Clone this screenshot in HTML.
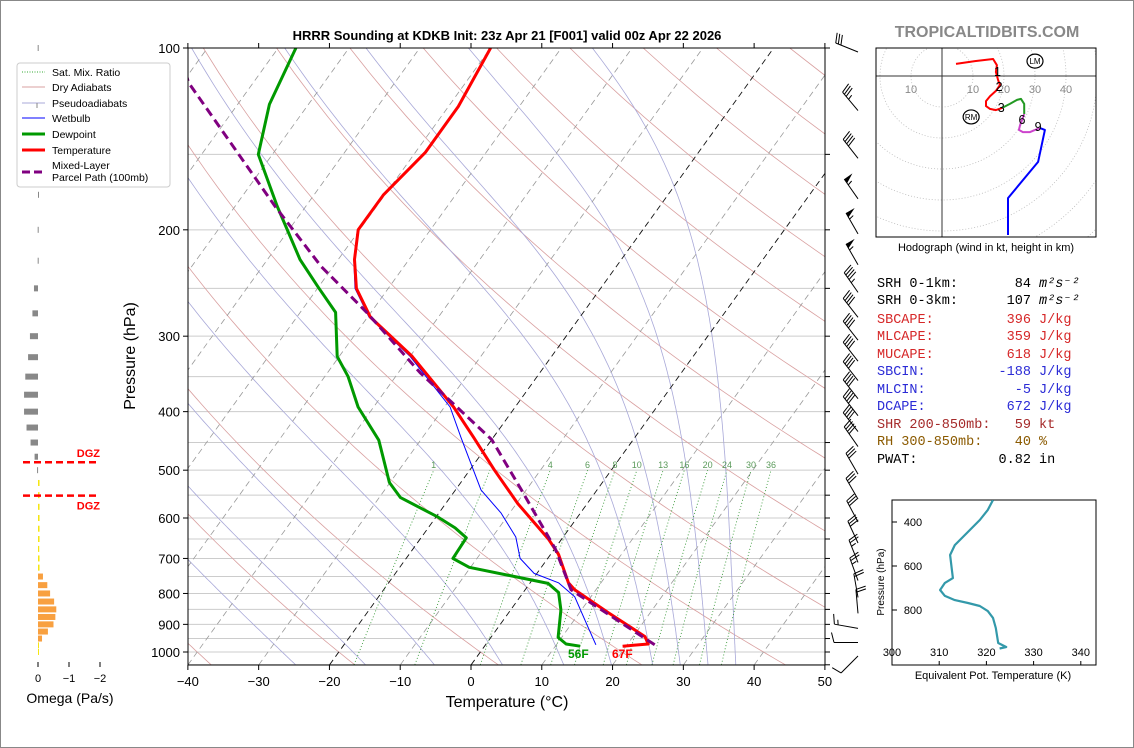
<!DOCTYPE html>
<html><head><meta charset="utf-8"><title>HRRR Sounding KDKB</title>
<style>
html,body{margin:0;padding:0;background:#fff;}
body{width:1134px;height:748px;overflow:hidden;font-family:"Liberation Sans","DejaVu Sans",sans-serif;}
svg{display:block}
.mono{font-family:"Liberation Mono","DejaVu Sans Mono",monospace;font-size:13.5px;white-space:pre;}
</style></head>
<body>
<svg id="chart" width="1134" height="748" viewBox="0 0 1134 748" xmlns="http://www.w3.org/2000/svg">
<rect x="0.5" y="0.5" width="1133" height="747" fill="#fff" stroke="#888"/>
<defs>
<clipPath id="mainClip"><rect x="188" y="48" width="637" height="617"/></clipPath>
<clipPath id="hodoClip"><rect x="876" y="48" width="220" height="189"/></clipPath>
<clipPath id="teClip"><rect x="892" y="500" width="204" height="165"/></clipPath>
</defs>
<g id="bg" clip-path="url(#mainClip)"></g>
<g id="traces" clip-path="url(#mainClip)"></g>
<g id="axes"></g>
<g id="barbs"></g>
<g id="omega"></g>
<g id="hodo"></g>
<g id="te"></g>

<text x="507" y="40" text-anchor="middle" font-size="13" font-weight="bold">HRRR Sounding at KDKB Init: 23z Apr 21 [F001] valid 00z Apr 22 2026</text>
<text x="987" y="37" text-anchor="middle" font-size="16" font-weight="bold" fill="#888">TROPICALTIDBITS.COM</text>
<text transform="translate(135,356) rotate(-90)" text-anchor="middle" font-size="16">Pressure (hPa)</text>
<text x="507" y="707" text-anchor="middle" font-size="16">Temperature (°C)</text>
<text x="70" y="703" text-anchor="middle" font-size="14">Omega (Pa/s)</text>
<text x="986" y="251" text-anchor="middle" font-size="11">Hodograph (wind in kt, height in km)</text>
<text x="993" y="679" text-anchor="middle" font-size="11">Equivalent Pot. Temperature (K)</text>
<text transform="translate(884,582) rotate(-90)" text-anchor="middle" font-size="10">Pressure (hPa)</text>
<text x="568" y="658" font-size="12" font-weight="bold" fill="#009900">56F</text>
<text x="612" y="658" font-size="12" font-weight="bold" fill="#ff0000">67F</text>

<g>
<rect x="17" y="63" width="153" height="124" rx="3" fill="#fff" stroke="#ccc"/>
<line x1="22" y1="72" x2="45" y2="72" stroke="#3a3" stroke-dasharray="1,1.5"/>
<text x="52" y="76" font-size="10.5">Sat. Mix. Ratio</text>
<line x1="22" y1="87" x2="45" y2="87" stroke="#d9a0a0"/>
<text x="52" y="91" font-size="10.5">Dry Adiabats</text>
<line x1="22" y1="103" x2="45" y2="103" stroke="#a8a8d8"/>
<line x1="37" y1="103" x2="37" y2="108" stroke="#888"/>
<text x="52" y="107" font-size="10.5">Pseudoadiabats</text>
<line x1="22" y1="118" x2="45" y2="118" stroke="#0000ff"/>
<text x="52" y="122" font-size="10.5">Wetbulb</text>
<line x1="22" y1="134" x2="45" y2="134" stroke="#009900" stroke-width="3"/>
<text x="52" y="138" font-size="10.5">Dewpoint</text>
<line x1="22" y1="150" x2="45" y2="150" stroke="#ff0000" stroke-width="3"/>
<text x="52" y="154" font-size="10.5">Temperature</text>
<line x1="22" y1="172" x2="45" y2="172" stroke="#800080" stroke-width="3" stroke-dasharray="8,4"/>
<text x="52" y="169" font-size="10.5">Mixed-Layer</text>
<text x="52" y="181" font-size="10.5">Parcel Path (100mb)</text>
</g>

<g class="mono">
<text x="877" y="287" class="mono">SRH 0-1km:       84 <tspan font-style="italic">m²s⁻²</tspan></text>
<text x="877" y="304" class="mono">SRH 0-3km:      107 <tspan font-style="italic">m²s⁻²</tspan></text>
<text x="877" y="323" class="mono" fill="#d62728">SBCAPE:         396 J/kg</text>
<text x="877" y="340" class="mono" fill="#d62728">MLCAPE:         359 J/kg</text>
<text x="877" y="358" class="mono" fill="#d62728">MUCAPE:         618 J/kg</text>
<text x="877" y="375" class="mono" fill="#2b2bd6">SBCIN:         -188 J/kg</text>
<text x="877" y="393" class="mono" fill="#2b2bd6">MLCIN:           -5 J/kg</text>
<text x="877" y="410" class="mono" fill="#2b2bd6">DCAPE:          672 J/kg</text>
<text x="877" y="428" class="mono" fill="#a52a2a">SHR 200-850mb:   59 kt</text>
<text x="877" y="445" class="mono" fill="#8b5a00">RH 300-850mb:    40 %</text>
<text x="877" y="463" class="mono">PWAT:          0.82 in</text>
</g>
</svg>

<script>
// ---- Data ----
const tempP = [978, 970, 943, 861, 789, 768, 689, 651, 568, 500, 442, 393, 324, 279, 250, 224, 200, 175, 149, 125, 100];
const tempT = [19.5, 22.9, 21.7, 14.1, 7.0, 5.4, 1.1, -1.8, -9.8, -16.5, -22.7, -28.7, -39.7, -49.6, -54.5, -57.7, -60.2, -60.2, -58.6, -58.6, -60.0];
const dewP = [978, 970, 946, 852, 797, 770, 724, 700, 647, 623, 598, 555, 524, 446, 393, 350, 324, 274, 249, 224, 202, 183, 150, 124, 100];
const dewT = [13.5, 11.3, 9.5, 7.1, 5.0, 2.6, -10.2, -13.4, -13.6, -16.2, -19.7, -27.0, -30.1, -35.9, -42.2, -46.7, -50.3, -55.0, -60.0, -65.4, -69.8, -74.0, -82.0, -85.5, -87.5];
const wetP = [973, 910, 810, 768, 741, 700, 645, 589, 539, 442, 393, 324, 279, 250, 224, 200, 175, 149, 125, 100];
const wetT = [15.6, 12.7, 7.7, 4.0, -0.4, -3.9, -6.7, -11.2, -16.4, -24.5, -29.2, -40.0, -49.8, -54.7, -57.8, -60.3, -60.3, -58.7, -58.7, -60.1];
const parcelP = [973, 789, 675, 539, 445, 345, 274, 230, 183, 114, 100];
const parcelT = [23.9, 6.5, 0.1, -10.7, -20.0, -36.9, -50.6, -61.7, -74.3, -99.2, -104];
const xTicks = [-40, -30, -20, -10, 0, 10, 20, 30, 40, 50];
const pTicks = [100, 200, 300, 400, 500, 600, 700, 800, 900, 1000];
const mixRatios = [1, 2, 4, 6, 8, 10, 13, 16, 20, 24, 30, 36];
const mixLabels = ["1", "", "4", "6", "8", "10", "13", "16", "20", "24", "30", "36"];
const moistStarts = [-28, -18, -8, 2, 11, 18, 24, 28, 32, 36];
const barbP = [100, 125, 150, 175, 200, 225, 250, 275, 300, 325, 350, 375, 400, 425, 450, 500, 550, 600, 650, 700, 750, 800, 850, 900, 950, 1000];
const barbSpd = [30, 35, 40, 55, 55, 55, 45, 40, 40, 40, 40, 40, 40, 40, 40, 30, 30, 30, 30, 25, 25, 20, 20, 15, 10, 10];
const barbDir = [292, 320, 322, 325, 330, 330, 325, 322, 322, 322, 322, 322, 322, 322, 325, 330, 330, 332, 335, 338, 340, 350, 355, 280, 270, 225];
const omegaP = [100,125,150,175,200,225,250,275,300,325,350,375,400,425,450,475,500,525,550,575,600,625,650,675,700,725,750,775,800,825,850,875,900,925,950,975,1000];
const omegaV = [0.01,0,0,0,0.01,0.01,0.13,0.18,0.26,0.32,0.41,0.45,0.45,0.37,0.24,0.11,0.03,-0.05,-0.05,-0.05,-0.05,-0.05,-0.05,-0.04,-0.05,-0.05,-0.16,-0.3,-0.39,-0.52,-0.59,-0.56,-0.5,-0.32,-0.13,-0.02,-0.01];
const dgzP = [485, 551];
const hodoRedU = [4.5, 10.6, 16.5, 17.7, 17.4, 18.1, 18.7, 17.4, 15.5, 14.2, 14.2, 15.5, 17.4, 19.4];
const hodoRedV = [3.9, 4.8, 5.5, 3.5, 1.3, -1.3, -2.9, -4.8, -6.5, -8.1, -9.7, -10.6, -11.0, -10.3];
const hodoGreenU = [19.4, 21.9, 24.2, 25.5, 26.5, 26.5];
const hodoGreenV = [-10.3, -9.0, -7.7, -7.4, -9.0, -12.3];
const hodoMagU = [26.5, 25.2, 24.8, 26.1, 28.4, 30.0, 31.6];
const hodoMagV = [-12.3, -15.8, -17.4, -18.1, -18.1, -17.4, -16.8];
const hodoBlueU = [31.6, 33.2, 31.0, 21.3, 21.3];
const hodoBlueV = [-16.8, -17.4, -27.7, -39.4, -51.3];
const hodoLabelsTxt = ["1", "2", "3", "6", "9"];
const hodoLabelsU = [17.9, 18.4, 19.1, 25.8, 31.0];
const hodoLabelsV = [1.3, -3.6, -10.3, -14.2, -16.4];
const rmUV = [9.4, -13.2];
const lmUV = [30.0, 4.8];
const teP = [300, 345, 391, 445, 505, 550, 618, 655, 677, 709, 736, 755, 768, 782, 805, 836, 882, 950, 968, 975];
const teK = [321.4, 320.3, 318.6, 316.1, 313.3, 312.3, 312.7, 312.9, 311.2, 310.2, 311.2, 313.3, 316.1, 318.6, 320.3, 321.4, 322.0, 322.5, 324.2, 322.8];
const teXTicks = [300, 310, 320, 330, 340];
const teYTicks = [400, 600, 800];

// ---- Axis functions ----
const NS = "http://www.w3.org/2000/svg";
function yP(p){ return 48 + 604*Math.log10(p/100); }
function xT(t,p){ return 471 + 7.078*t + 0.72*(665 - yP(p)); }
function mk(tag, attrs, parent){
  const e = document.createElementNS(NS, tag);
  for (const k in attrs) e.setAttribute(k, attrs[k]);
  parent.appendChild(e);
  return e;
}
function ptsStr(arr){ return arr.map(a => a[0].toFixed(1)+","+a[1].toFixed(1)).join(" "); }

const bg = document.getElementById("bg");
const tr = document.getElementById("traces");
const ax = document.getElementById("axes");

for (let p = 100; p <= 1050; p += 50) {
  const l = mk("line", {x1:188, x2:825, y1:yP(p), y2:yP(p), stroke:"#cccccc", "stroke-width":1}, bg);
  
  
}
for (let th = 233.15; th <= 573; th += 20) {
  const pts = [];
  for (let p = 1050; p >= 100; p -= 10) pts.push([xT(th*Math.pow(p/1000,0.2857)-273.15,p), yP(p)]);
  const l = mk("polyline", {points:ptsStr(pts), fill:"none", stroke:"#d9a0a0", "stroke-width":0.8}, bg);
  
  
}
function es(tc){ return 6.112*Math.exp(17.67*tc/(tc+243.5)); }
function dTdp(T,p){
  const tc = T-273.15, e = es(tc), rs = 0.622*e/(p-e);
  return (287*T + 2.5e6*rs)/(p*(1004 + 2.5e6*2.5e6*rs*0.622/(287*T*T)));
}
for (const t0 of moistStarts) {
  const up = []; let T = t0+273.15;
  for (let p = 1000; p >= 100; p -= 5) { up.push([xT(T-273.15,p), yP(p)]); T -= dTdp(T,p)*5; }
  const dn = []; T = t0+273.15;
  for (let p = 1000; p <= 1050; p += 5) { dn.push([xT(T-273.15,p), yP(p)]); T += dTdp(T,p)*5; }
  const pts = dn.reverse().concat(up);
  const l = mk("polyline", {points:ptsStr(pts), fill:"none", stroke:"#a8a8d8", "stroke-width":0.8}, bg);
  
  
}
for (let t = -130; t <= 50; t += 10) {
  const hl = (t === 0 || t === -20);
  const l = mk("line", {x1:xT(t,1050), y1:yP(1050), x2:xT(t,100), y2:yP(100), stroke: hl ? "#111" : "#999", "stroke-width": hl ? 0.9 : 0.8, "stroke-dasharray":"6,4"}, bg);
  
  
}
function tdFromW(w,p){ const e = w*p/(622+w); const a = Math.log(e/6.112); return 243.5*a/(17.67-a); }
mixRatios.forEach((w,i) => {
  const pts = [];
  for (let p = 1050; p >= 500; p -= 10) pts.push([xT(tdFromW(w,p),p), yP(p)]);
  const l = mk("polyline", {points:ptsStr(pts), fill:"none", stroke:"#3a9a3a", "stroke-width":0.9, "stroke-dasharray":"1,2.2"}, bg);
  
  
  if (mixLabels[i]) {
    const tx = mk("text", {x:xT(tdFromW(w,500),500), y:468, "font-size":9, fill:"#5a9a5a", "text-anchor":"middle"}, bg);
    tx.textContent = mixLabels[i];
    
    
  }
});

function trace(P, T, color, width, dash, name){
  const pts = P.map((p,i) => [xT(T[i],p), yP(p)]);
  const attrs = {points:ptsStr(pts), fill:"none", stroke:color, "stroke-width":width, "stroke-linejoin":"round"};
  if (dash) attrs["stroke-dasharray"] = dash;
  const l = mk("polyline", attrs, tr);
  
  
}
trace(wetP, wetT, "#0000ff", 1, null, "wetbulb-line");
trace(dewP, dewT, "#009900", 3, null, "dewpoint-line");
trace(tempP, tempT, "#ff0000", 3, null, "temperature-line");
trace(parcelP, parcelT, "#800080", 3, "9,5", "parcel-path-line");

const frame = mk("rect", {x:188, y:48, width:637, height:617, fill:"none", stroke:"#000", "stroke-width":1}, ax);


xTicks.forEach(t => {
  const x = 471 + 7.078*t;
  const a = mk("line", {x1:x, x2:x, y1:665, y2:670, stroke:"#000"}, ax);
  
  
  const b = mk("line", {x1:x, x2:x, y1:43, y2:48, stroke:"#000"}, ax);
  
  
  const tx = mk("text", {x:x, y:686, "text-anchor":"middle", "font-size":13}, ax);
  tx.textContent = t < 0 ? "\u2212" + Math.abs(t) : String(t);
  
  
});
pTicks.forEach(p => {
  const y = yP(p);
  const a = mk("line", {x1:183, x2:188, y1:y, y2:y, stroke:"#000"}, ax);
  
  
  const tx = mk("text", {x:180, y:y+5, "text-anchor":"end", "font-size":13}, ax);
  tx.textContent = String(p);
  
  
});
for (let p = 100; p <= 1050; p += 50) {
  const a = mk("line", {x1:825, x2:830, y1:yP(p), y2:yP(p), stroke:"#000"}, ax);
  
  
}

const bgp = document.getElementById("barbs");
barbP.forEach((p,i) => {
  const d = barbDir[i]*Math.PI/180;
  const sx = Math.sin(d), sy = -Math.cos(d);
  const bx = 858, by = yP(p) + 4;
  const L = 24;
  const tx = bx + sx*L, ty = by + sy*L;
  const g = mk("g", {}, bgp);
  
  
  mk("line", {x1:bx, y1:by, x2:tx, y2:ty, stroke:"#000", "stroke-width":1}, g);
  const px = -sy, py = sx;
  let spd = barbSpd[i];
  let pos = 0;
  const flen = 10;
  while (spd >= 50) {
    const ax1 = tx - sx*pos, ay1 = ty - sy*pos;
    const ax2 = tx - sx*(pos+5), ay2 = ty - sy*(pos+5);
    mk("polygon", {points:`${ax1},${ay1} ${ax1+px*flen},${ay1+py*flen} ${ax2},${ay2}`, fill:"#000"}, g);
    pos += 6; spd -= 50;
  }
  while (spd >= 10) {
    const ax1 = tx - sx*pos, ay1 = ty - sy*pos;
    mk("line", {x1:ax1, y1:ay1, x2:ax1+px*flen + sx*2.5, y2:ay1+py*flen + sy*2.5, stroke:"#000", "stroke-width":1}, g);
    pos += 2.8; spd -= 10;
  }
  if (spd >= 5) {
    const ax1 = tx - sx*(pos+1), ay1 = ty - sy*(pos+1);
    mk("line", {x1:ax1, y1:ay1, x2:ax1+px*flen*0.5 + sx*1.2, y2:ay1+py*flen*0.5 + sy*1.2, stroke:"#000", "stroke-width":1}, g);
  }
});

const og = document.getElementById("omega");
function xO(w){ return 38 - w*31; }
omegaP.forEach((p,i) => {
  const w = omegaV[i];
  const x0 = Math.min(xO(0), xO(w)), wd = Math.max(Math.abs(xO(w)-xO(0)), 1);
  const col = w >= 0 ? "#888888" : (w > -0.1 ? "#f5e614" : "#f8a040");
  const r = mk("rect", {x:x0, y:yP(p)-3, width:wd, height:6, fill:col}, og);
  
  
});
[0, -1, -2].forEach(w => {
  const a = mk("line", {x1:xO(w), x2:xO(w), y1:662, y2:667, stroke:"#000"}, og);
  
  
  const tx = mk("text", {x:xO(w), y:682, "text-anchor":"middle", "font-size":11}, og);
  tx.textContent = w === 0 ? "0" : "\u2212" + Math.abs(w);
  
  
});
dgzP.forEach((p,i) => {
  const y = yP(p);
  const l = mk("line", {x1:23, x2:98, y1:y, y2:y, stroke:"#ff0000", "stroke-width":2.5, "stroke-dasharray":"7,4"}, og);
  
  
  const tx = mk("text", {x:100, y: i === 0 ? y-5 : y+14, "text-anchor":"end", "font-size":11, "font-weight":"bold", fill:"#ff0000"}, og);
  tx.textContent = "DGZ";
  
  
});

const hg = document.getElementById("hodo");
const hc = mk("g", {"clip-path":"url(#hodoClip)"}, hg);


const HX = 942, HY = 76, HS = 3.1;
function hx(u){ return HX + u*HS; }
function hy(v){ return HY - v*HS; }
for (let r = 10; r <= 70; r += 10) {
  const c = mk("circle", {cx:HX, cy:HY, r:r*HS, fill:"none", stroke:"#bbb", "stroke-width":0.8, "stroke-dasharray":"1,2"}, hc);
  
  
}
const hv = mk("line", {x1:HX, x2:HX, y1:48, y2:237, stroke:"#333", "stroke-width":1}, hc);


const hh = mk("line", {x1:876, x2:1096, y1:HY, y2:HY, stroke:"#333", "stroke-width":1}, hc);


[[-10,"10"],[10,"10"],[20,"20"],[30,"30"],[40,"40"]].forEach(a => {
  const tx = mk("text", {x:hx(a[0]), y:93, "text-anchor":"middle", "font-size":11, fill:"#888"}, hc);
  tx.textContent = a[1];
  
  
});
function hline(U,V,color,name){
  const pts = U.map((u,i) => [hx(u), hy(V[i])]);
  const l = mk("polyline", {points:ptsStr(pts), fill:"none", stroke:color, "stroke-width":2, "stroke-linejoin":"round"}, hc);
  
  
}
hline(hodoRedU, hodoRedV, "#ff0000", "hodograph-0-3km");
hline(hodoGreenU, hodoGreenV, "#229922", "hodograph-3-6km");
hline(hodoMagU, hodoMagV, "#cc44cc", "hodograph-6-9km");
hline(hodoBlueU, hodoBlueV, "#0000ff", "hodograph-9km-up");
hodoLabelsTxt.forEach((t,i) => {
  const tx = mk("text", {x:hx(hodoLabelsU[i]), y:hy(hodoLabelsV[i])+4, "text-anchor":"middle", "font-size":12.5, fill:"#000"}, hc);
  tx.textContent = t;
  
  
});
[[rmUV,"RM","storm-motion-rm"],[lmUV,"LM","storm-motion-lm"]].forEach(a => {
  const c = mk("ellipse", {cx:hx(a[0][0]), cy:hy(a[0][1]), rx:8, ry:7, fill:"#fff", stroke:"#000", "stroke-width":1.2}, hc);
  
  
  const tx = mk("text", {x:hx(a[0][0]), y:hy(a[0][1])+3, "text-anchor":"middle", "font-size":8}, hc);
  tx.textContent = a[1];
  
  
});
const hb = mk("rect", {x:876, y:48, width:220, height:189, fill:"none", stroke:"#000", "stroke-width":1}, hg);



const tg = document.getElementById("te");
function tex(k){ return 892 + (k-300)*4.72; }
function tey(p){ return 500 + (p-300)*0.22; }
const tb = mk("rect", {x:892, y:500, width:204, height:165, fill:"#fff", stroke:"#000", "stroke-width":1}, tg);


const tcg = mk("g", {"clip-path":"url(#teClip)"}, tg);


const tl = mk("polyline", {points:ptsStr(teP.map((p,i) => [tex(teK[i]), tey(p)])), fill:"none", stroke:"#3399aa", "stroke-width":2.2, "stroke-linejoin":"round"}, tcg);


teXTicks.forEach(k => {
  const a = mk("line", {x1:tex(k), x2:tex(k), y1:665, y2:661, stroke:"#000"}, tg);
  
  
  const tx = mk("text", {x:tex(k), y:656, "text-anchor":"middle", "font-size":11}, tg);
  tx.textContent = String(k);
  
  
});
teYTicks.forEach(p => {
  const a = mk("line", {x1:892, x2:897, y1:tey(p), y2:tey(p), stroke:"#000"}, tg);
  
  
  const tx = mk("text", {x:913, y:tey(p)+4, "text-anchor":"middle", "font-size":11}, tg);
  tx.textContent = String(p);
  
  
});
</script>
</body></html>
